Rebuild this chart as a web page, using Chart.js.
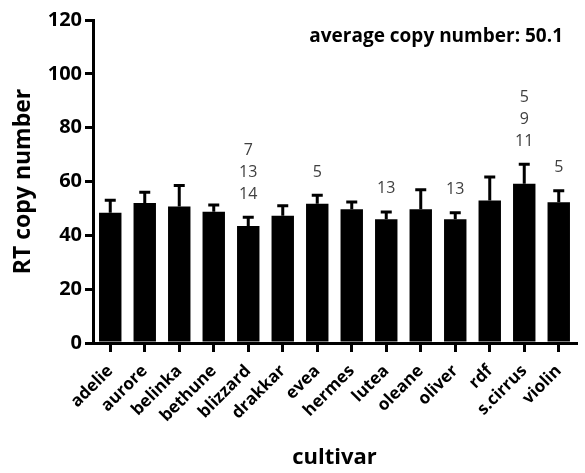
<!DOCTYPE html>
<html lang="en">
<head>
<meta charset="UTF-8">
<title>RT copy number by cultivar</title>
<script src="https://cdn.jsdelivr.net/npm/chart.js"></script>
<style>
  body { margin: 0; background: #fff; }
</style>
</head>
<body>
<canvas id="myChart" width="585" height="473"></canvas>
<script>
var cultivars = ['adelie', 'aurore', 'belinka', 'bethune', 'blizzard', 'drakkar', 'evea',
                 'hermes', 'lutea', 'oleane', 'oliver', 'rdf', 's.cirrus', 'violin'];
var meanCopies = [48.4, 52.0, 50.7, 48.8, 43.5, 47.3, 51.7, 49.7, 46.0, 49.7, 46.0, 52.9, 59.2, 52.3];
var sdCopies = [4.6, 4.0, 7.8, 2.5, 3.2, 3.7, 3.2, 2.7, 2.7, 7.2, 2.4, 8.8, 7.2, 4.3];
// numbers printed above some of the bars
var barNotes = [[], [], [], [], ['7', '13', '14'], [], ['5'], [], ['13'], [], ['13'], [], ['5', '9', '11'], ['5']];
var yTicks = [0, 20, 40, 60, 80, 100, 120];
var averageText = 'average copy number: 50.1';

var fontFamily = "'Open Sans', 'Noto Sans', sans-serif";

var errorBars = {
    id: 'errorBars',
    afterDatasetsDraw: function (chart) {
        var ctx = chart.ctx;
        var y = chart.scales.y;
        var meta = chart.getDatasetMeta(0);
        ctx.save();
        ctx.strokeStyle = '#000';
        ctx.lineWidth = 3;
        meta.data.forEach(function (bar, i) {
            var yTop = y.getPixelForValue(meanCopies[i] + sdCopies[i]);
            ctx.beginPath();
            ctx.moveTo(bar.x, bar.y);
            ctx.lineTo(bar.x, yTop);
            ctx.moveTo(bar.x - 5.5, yTop);
            ctx.lineTo(bar.x + 5.5, yTop);
            ctx.stroke();

            // stacked notes, last one sits just above the cap
            ctx.fillStyle = '#404040';
            ctx.font = '16px ' + fontFamily;
            ctx.textAlign = 'center';
            ctx.textBaseline = 'middle';
            var notes = barNotes[i];
            for (var k = 0; k < notes.length; k++) {
                var offset = 23 + (notes.length - 1 - k) * 22;
                ctx.fillText(notes[k], bar.x, yTop - offset);
            }
        });

        var area = chart.chartArea;
        ctx.fillStyle = '#000';
        ctx.font = 'bold 19px ' + fontFamily;
        ctx.textAlign = 'right';
        ctx.fillText(averageText, area.right - 13, area.top + 17);
        ctx.restore();
    }
};

var ctx = document.getElementById('myChart').getContext('2d');
var myChart = new Chart(ctx, {
    type: 'bar',
    data: {
        labels: cultivars,
        datasets: [{
            data: meanCopies,
            backgroundColor: '#000',
            borderWidth: 0,
            barPercentage: 0.65,
            categoryPercentage: 1
        }]
    },
    options: {
        responsive: false,
        animation: false,
        layout: { padding: { top: 20, right: 9, left: 0, bottom: 0 } },
        plugins: {
            legend: { display: false },
            tooltip: { enabled: false }
        },
        scales: {
            x: {
                grid: {
                    offset: false,
                    drawOnChartArea: false,
                    color: '#000',
                    lineWidth: 3,
                    tickLength: 9
                },
                border: { color: '#000', width: 3 },
                ticks: {
                    color: '#000',
                    font: { family: fontFamily, size: 17, weight: 'bold' },
                    maxRotation: 45,
                    minRotation: 45,
                    padding: 9
                },
                title: {
                    display: true,
                    text: 'cultivar',
                    color: '#000',
                    font: { family: fontFamily, size: 22, weight: 'bold' },
                    padding: { top: 0, bottom: 2 }
                },
                afterFit: function (scale) { scale.height = 130; }
            },
            y: {
                min: 0,
                max: 120,
                afterBuildTicks: function (scale) {
                    scale.ticks = yTicks.map(function (v) { return { value: v }; });
                },
                grid: {
                    drawOnChartArea: false,
                    color: '#000',
                    lineWidth: 3,
                    tickLength: 8
                },
                border: { color: '#000', width: 3 },
                ticks: {
                    color: '#000',
                    font: { family: fontFamily, size: 20, weight: 'bold' },
                    padding: 3
                },
                title: {
                    display: true,
                    text: 'RT copy number',
                    color: '#000',
                    font: { family: fontFamily, size: 23, weight: 'bold' },
                    padding: { top: 10, bottom: 0 }
                },
                afterFit: function (scale) { scale.width = 93; }
            }
        }
    },
    plugins: [errorBars]
});
</script>
</body>
</html>
